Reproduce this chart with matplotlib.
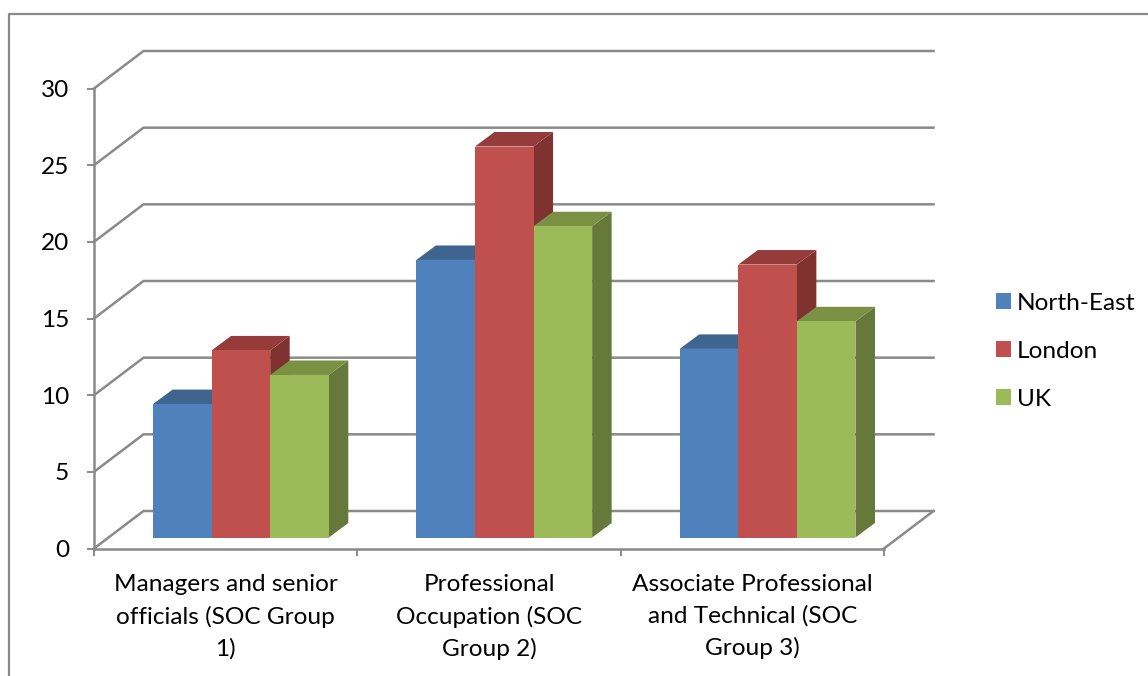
import matplotlib
matplotlib.use("Agg")
import matplotlib.pyplot as plt
from matplotlib.lines import Line2D
from matplotlib.patches import Patch, Polygon

#--------------------data------------------------------
categories = ["Managers and senior\nofficials (SOC Group\n1)",
              "Professional\nOccupation (SOC\nGroup 2)",
              "Associate Professional\nand Technical (SOC\nGroup 3)"]
series_names = ["North-East", "London", "UK"]
north_east = [8.7, 18.1, 12.3]
london = [12.2, 25.5, 17.8]
uk = [10.6, 20.3, 14.1]
y_ticks = [0, 5, 10, 15, 20, 25, 30]

#--------------------style------------------------------
W, H = 1148, 676
GREY = "#8a8a8a"
front = ["#4F81BD", "#C0504D", "#9BBB59"]
top = ["#3E648F", "#953C3A", "#7A9144"]
side = ["#345479", "#7F3230", "#66783A"]

# 3d look: how far the back wall sits from the front plane, in data units
WALL_DX = 49.5 / (790 / 3)
WALL_DY = 37.5 / (460 / 30)
BAR_DX = 19.5 / (790 / 3)
BAR_DY = 14.5 / (460 / 30)
BAR_LIFT = 11 / (460 / 30)
BAR_W = 58.6 / (790 / 3)
BAR_START = 59 / (790 / 3)

plt.rcParams["font.family"] = ["Lato", "DejaVu Sans"]
FS = 17.6

fig = plt.figure(figsize=(W / 100, H / 100), dpi=100)
ax = fig.add_axes([94 / W, (H - 548.5) / H, 790 / W, 460 / H])
ax.patch.set_visible(False)
ax.set_xlim(0, 3)
ax.set_ylim(0, 30)

#--------------------outer frame------------------------
fx, fy = 8.5 / W, 1 - 13.5 / H
fig.add_artist(Line2D([fx, fx, 1], [0, fy, fy], color=GREY, lw=1.6))

#--------------------walls------------------------------
for v in y_ticks:
    ax.plot([0, WALL_DX, 3 + WALL_DX], [v, v + WALL_DY, v + WALL_DY],
            color=GREY, lw=1.8, clip_on=False, zorder=1, solid_joinstyle="miter")
ax.plot([3, 3 + WALL_DX], [0, WALL_DY], color=GREY, lw=1.8, clip_on=False, zorder=1)

#--------------------bars-------------------------------
for j, values in enumerate([north_east, london, uk]):
    for i, v in enumerate(values):
        x0 = i + BAR_START + j * BAR_W
        x1 = x0 + BAR_W
        y0 = BAR_LIFT
        y1 = v + BAR_LIFT
        ax.add_patch(Polygon([(x1, y0), (x1 + BAR_DX, y0 + BAR_DY), (x1 + BAR_DX, y1 + BAR_DY), (x1, y1)],
                             fc=side[j], ec="none", clip_on=False, zorder=3))
        ax.add_patch(Polygon([(x0, y1), (x1, y1), (x1 + BAR_DX, y1 + BAR_DY), (x0 + BAR_DX, y1 + BAR_DY)],
                             fc=top[j], ec="none", clip_on=False, zorder=3))
        ax.add_patch(Polygon([(x0, y0), (x1, y0), (x1, y1), (x0, y1)],
                             fc=front[j], ec="none", clip_on=False, zorder=3))

#--------------------axes-------------------------------
for s in ["top", "right"]:
    ax.spines[s].set_visible(False)
for s in ["left", "bottom"]:
    ax.spines[s].set_color(GREY)
    ax.spines[s].set_linewidth(1.8)

ax.set_yticks(y_ticks)
ax.tick_params(axis="y", length=5, width=1.4, color=GREY, pad=13, labelsize=FS)
ax.set_xticks([0, 1, 2, 3])
ax.set_xticklabels([])
ax.tick_params(axis="x", which="major", length=5, width=1.4, color=GREY)
ax.set_xticks([0.5, 1.5, 2.5], minor=True)
ax.set_xticklabels(categories, minor=True, fontsize=FS, linespacing=1.58)
ax.tick_params(axis="x", which="minor", length=0, pad=18.5)

#--------------------legend-----------------------------
handles = [Patch(fc=c, ec="none") for c in front]
fig.legend(handles, series_names, loc="upper left", bbox_to_anchor=(996 / W, 1 - 293 / H),
           frameon=False, fontsize=FS, borderpad=0, borderaxespad=0, labelspacing=1.1,
           handlelength=0.62, handleheight=0.62, handletextpad=0.22)

fig.savefig("out.png", dpi=100)
